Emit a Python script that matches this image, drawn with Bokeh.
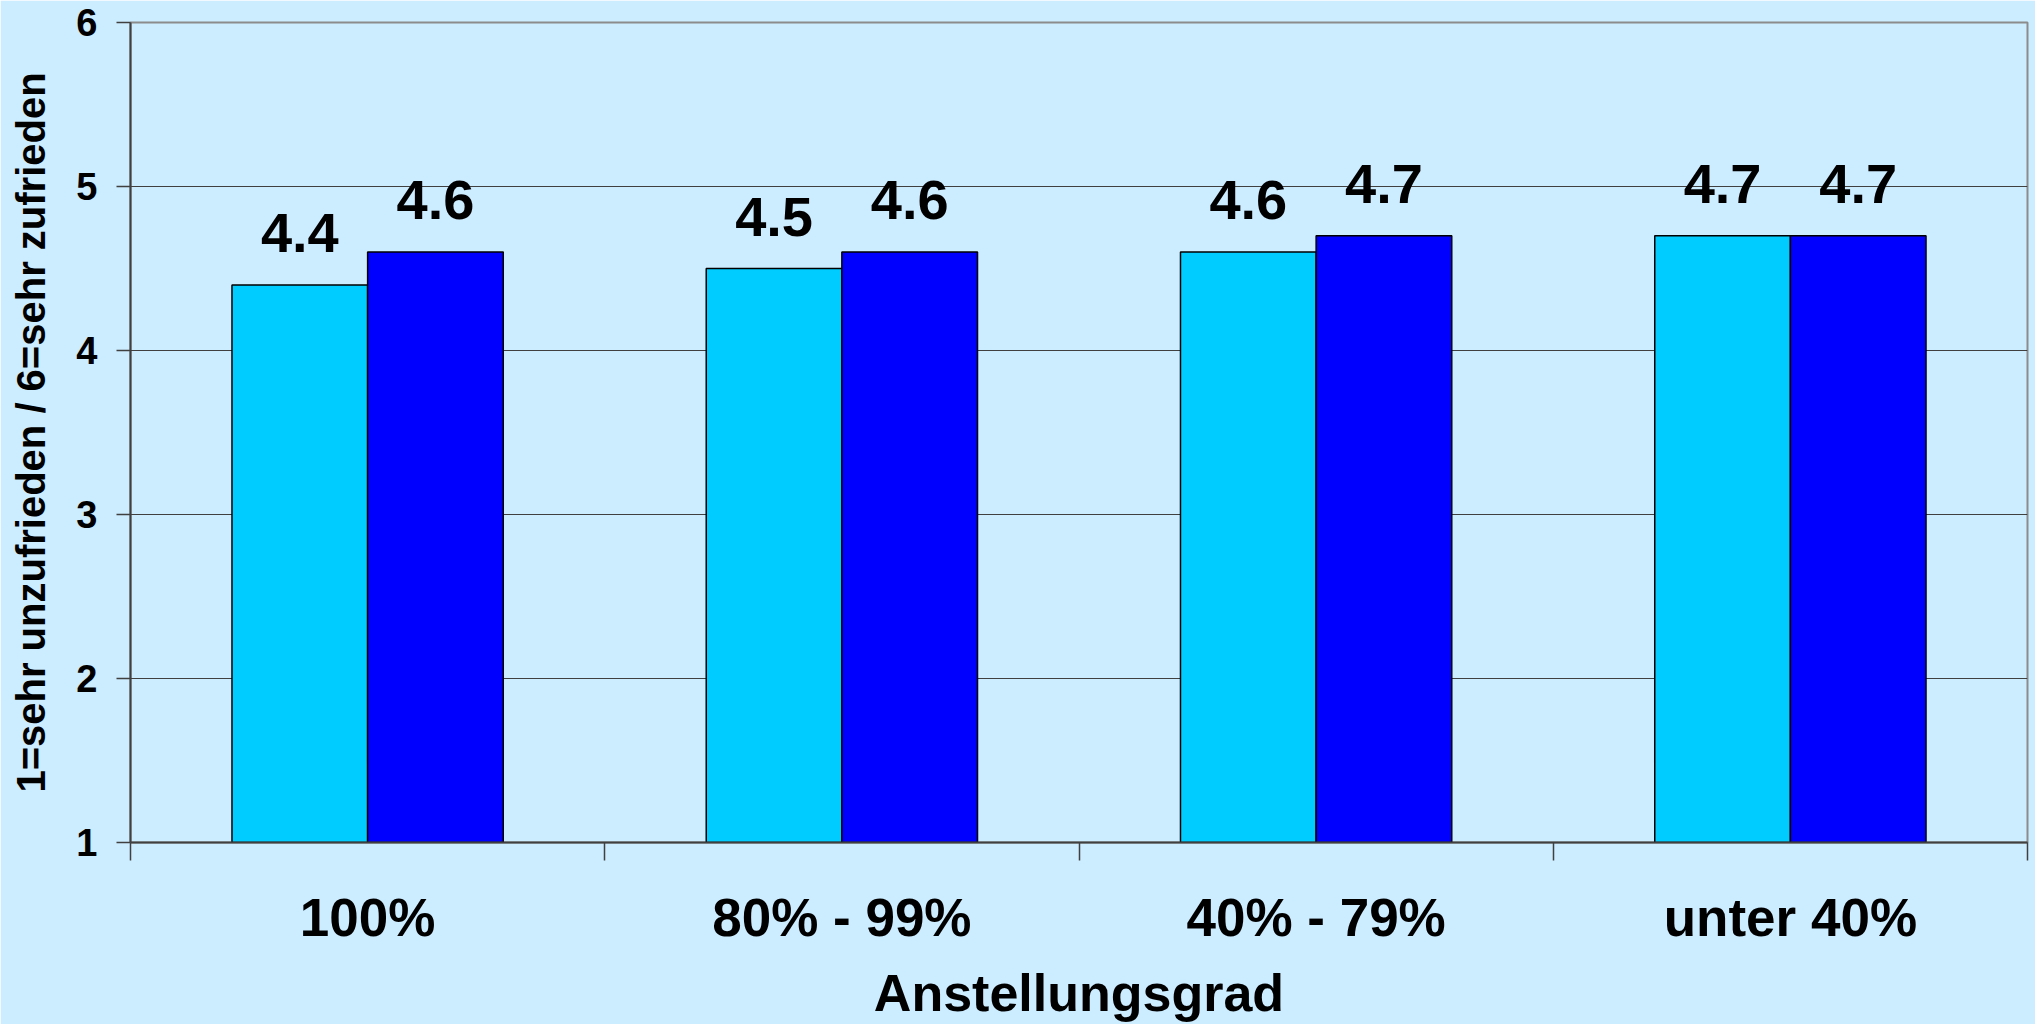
from bokeh.plotting import figure
from bokeh.models import ColumnDataSource, Range1d, FixedTicker
from bokeh.core.properties import value
from bokeh.embed import file_html
from bokeh.resources import INLINE

categories = ["100%", "80% - 99%", "40% - 79%", "unter 40%"]
series_a = [4.4, 4.5, 4.6, 4.7]
series_b = [4.6, 4.6, 4.7, 4.7]
y_ticks = [1, 2, 3, 4, 5, 6]
x_title = "Anstellungsgrad"
y_title = "1=sehr unzufrieden / 6=sehr zufrieden"

BG = "#CCECFF"
FONT = "Liberation Sans"
BAR_W = 0.286

centers = [i + 0.5 for i in range(len(categories))]
src_a = ColumnDataSource(dict(x=[c - BAR_W / 2 for c in centers], top=series_a,
                              label=[f"{v:.1f}" for v in series_a]))
src_b = ColumnDataSource(dict(x=[c + BAR_W / 2 for c in centers], top=series_b,
                              label=[f"{v:.1f}" for v in series_b]))

p = figure(width=2035, height=1024, output_backend="svg", toolbar_location=None,
           x_range=Range1d(0, len(categories)), y_range=Range1d(1, 6))
p.min_border_left = 130
p.min_border_right = 8
p.min_border_top = 22
p.min_border_bottom = 181
p.background_fill_color = BG
p.border_fill_color = BG
p.outline_line_color = "#8C8C8C"
p.outline_line_width = 2

p.vbar(x="x", top="top", bottom=1, width=BAR_W, source=src_a,
       fill_color="#00CCFF", line_color="black", line_width=1.5)
p.vbar(x="x", top="top", bottom=1, width=BAR_W, source=src_b,
       fill_color="#0000FF", line_color="black", line_width=1.5)

for src in (src_a, src_b):
    p.text(x="x", y="top", text="label", source=src,
           text_font=value(FONT), text_font_style="bold", text_font_size="56px",
           text_align="center", text_baseline="alphabetic", y_offset=-52,
           text_color="black")

# grid
p.xgrid.visible = False
p.ygrid.ticker = FixedTicker(ticks=y_ticks[1:-1])
p.ygrid.grid_line_color = "#404040"
p.ygrid.grid_line_width = 1

# y axis
ya = p.yaxis[0]
ya.ticker = FixedTicker(ticks=y_ticks)
ya.axis_line_color = "#404040"
ya.axis_line_width = 2
ya.major_tick_out = 14
ya.major_tick_in = 0
ya.major_tick_line_color = "#404040"
ya.major_tick_line_width = 1.5
ya.minor_tick_line_color = None
ya.major_label_standoff = 19
ya.major_label_text_font = FONT
ya.major_label_text_font_style = "bold"
ya.major_label_text_font_size = "38px"
ya.major_label_text_color = "black"
ya.axis_label = y_title
ya.axis_label_standoff = 20
ya.axis_label_text_font = FONT
ya.axis_label_text_font_style = "bold"
ya.axis_label_text_font_size = "40px"
ya.axis_label_text_color = "black"

# x axis: labels at category centres, tick marks at category boundaries
xa = p.xaxis[0]
xa.ticker = FixedTicker(ticks=centers, minor_ticks=list(range(len(categories) + 1)))
xa.major_label_overrides = {c: name for c, name in zip(centers, categories)}
xa.axis_line_color = "#404040"
xa.axis_line_width = 2
xa.major_tick_out = 0
xa.major_tick_in = 0
xa.minor_tick_out = 18
xa.minor_tick_in = 0
xa.minor_tick_line_color = "#404040"
xa.minor_tick_line_width = 1.5
xa.major_label_standoff = 27
xa.major_label_text_font = FONT
xa.major_label_text_font_style = "bold"
xa.major_label_text_font_size = "53px"
xa.major_label_text_color = "black"
xa.axis_label = x_title
xa.axis_label_standoff = 14
xa.axis_label_text_font = FONT
xa.axis_label_text_font_style = "bold"
xa.axis_label_text_font_size = "52px"
xa.axis_label_text_color = "black"

open("out.html", "w").write(file_html(p, INLINE))
